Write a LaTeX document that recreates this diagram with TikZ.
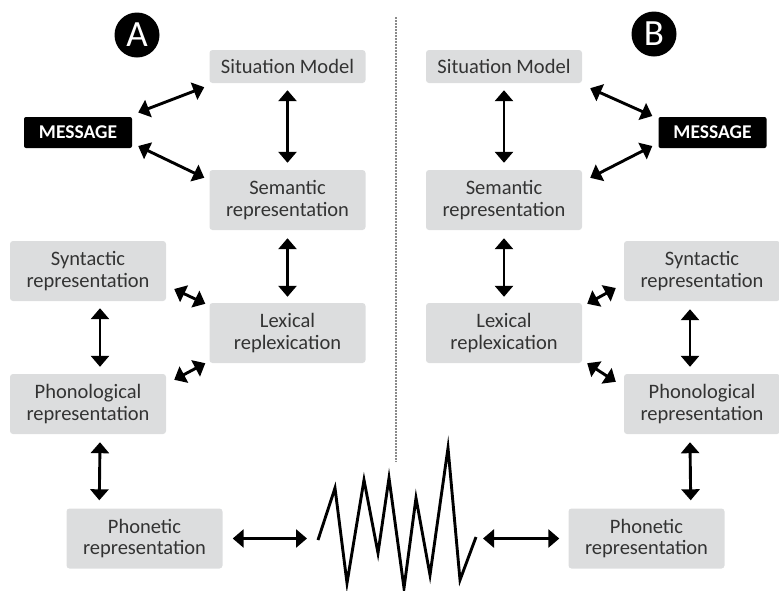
\documentclass[tikz,border=0pt]{standalone}
\usepackage{fontspec}
\setmainfont{Carlito}
\usetikzlibrary{arrows.meta,calc}
\definecolor{boxgray}{HTML}{DCDDDE}
\definecolor{txtgray}{HTML}{333333}
\definecolor{dotgray}{HTML}{8A8A8A}
\begin{document}
\begin{tikzpicture}[x=1pt,y=-1pt,
  box/.style={fill=boxgray, rounded corners=3pt, text=txtgray, align=center,
    font=\fontsize{20.5}{21.5}\selectfont, minimum width=156pt, minimum height=60pt, inner sep=0pt},
  sbox/.style={box, minimum height=33pt},
  msg/.style={fill=black, rounded corners=2pt, text=white,
    font=\fontsize{19.5}{20}\selectfont\bfseries, minimum width=108pt, minimum height=31pt, inner sep=0pt},
  badge/.style={circle, fill=black, text=white, minimum size=45pt, inner sep=0pt,
    font=\fontsize{37}{37}\selectfont},
  biarrow/.style={line width=2.9pt, {Triangle[width=18pt,length=11pt]}-{Triangle[width=18pt,length=11pt]}},
  wave/.style={line width=2.9pt, line join=miter},
  divider/.style={dotgray, line width=1.5pt, dash pattern=on 1.5pt off 1.5pt},
]
\useasboundingbox (0,0) rectangle (779,590);

% badges
\node[badge] (circA) at (137,35) {A};
\node[badge] (circB) at (654,34) {B};

% left panel
\node[sbox] (sitA) at (287.5,66.5) {Situation Model};
\node[box]  (semA) at (287.5,200) {Semantic\\representation};
\node[msg]  (msgA) at (78,132.5) {MESSAGE};
\node[box]  (synA) at (88,271) {Syntactic\\representation};
\node[box]  (lexA) at (287.5,333) {Lexical\\replexication};
\node[box]  (phoA) at (88,404) {Phonological\\representation};
\node[box]  (phnA) at (144.5,538.5) {Phonetic\\representation};

% right panel
\node[sbox] (sitB) at (504,66.5) {Situation Model};
\node[box]  (semB) at (504,200) {Semantic\\representation};
\node[msg]  (msgB) at (712.5,132.5) {MESSAGE};
\node[box]  (synB) at (702,271) {Syntactic\\representation};
\node[box]  (lexB) at (504,333) {Lexical\\replexication};
\node[box]  (phoB) at (702,404) {Phonological\\representation};
\node[box]  (phnB) at (646.5,538.5) {Phonetic\\representation};

% divider
\coordinate (dTop) at (396,17);
\coordinate (dBot) at (396,462);
\draw[divider] (dTop) -- (dBot);

% sound wave
\coordinate (wL) at (307,538.5);
\coordinate (wR) at (483,538.5);
\draw[wave] (318,540) -- (335,488) -- (347,583) -- (364,480) -- (378,553) -- (389,478)
  -- (404,588) -- (416,498) -- (430,575) -- (448,448) -- (460,580) -- (476,537);

% left arrows
\draw[biarrow] ($(msgA.east)+(6,-20)$) -- ($(sitA.south west)+(-5,4)$);
\draw[biarrow] ($(msgA.east)+(6,13.5)$) -- ($(semA.north west)+(-5,8)$);
\draw[biarrow] ($(sitA.south)+(0,7)$) -- ($(semA.north)+(0,-7)$);
\draw[biarrow] ($(semA.south)+(0,8)$) -- ($(lexA.north)+(0,-6)$);
\draw[biarrow] ($(synA.east)+(8,18)$) -- ($(lexA.north west)+(-4,1)$);
\draw[biarrow] ($(lexA.south west)+(-4,0)$) -- ($(phoA.north east)+(8,6)$);
\draw[biarrow] ($(synA.south)+(12,7)$) -- ($(phoA.north)+(12,-7)$);
\draw[biarrow] ($(phoA.south)+(12,8)$) -- ($(phnA.north west)+(33,-8)$);
\draw[biarrow] ($(phnA.east)+(10,0)$) -- (wL);

% right arrows
\draw[biarrow] ($(sitB.south east)+(8,5)$) -- ($(msgB.west)+(-6,-16.5)$);
\draw[biarrow] ($(semB.north east)+(8,8)$) -- ($(msgB.west)+(-6,13.5)$);
\draw[biarrow] ($(sitB.south)+(0,7)$) -- ($(semB.north)+(0,-7)$);
\draw[biarrow] ($(semB.south)+(0,8)$) -- ($(lexB.north)+(0,-6)$);
\draw[biarrow] ($(lexB.north east)+(5,1)$) -- ($(synB.west)+(-8,17)$);
\draw[biarrow] ($(lexB.south east)+(5,0)$) -- ($(phoB.north west)+(-8,8)$);
\draw[biarrow] ($(synB.south)+(-12,8)$) -- ($(phoB.north)+(-12,-7)$);
\draw[biarrow] ($(phoB.south)+(-12,8)$) -- ($(phnB.north east)+(-34,-8)$);
\draw[biarrow] (wR) -- ($(phnB.west)+(-9,0)$);
\end{tikzpicture}
\end{document}
